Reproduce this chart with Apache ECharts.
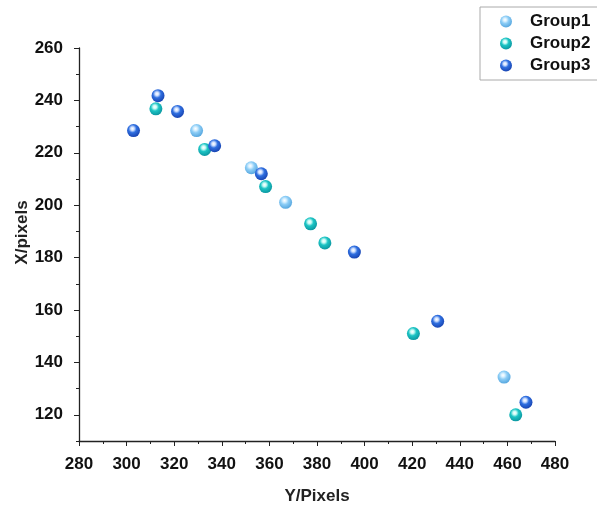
<!DOCTYPE html>
<html>
<head>
<meta charset="utf-8">
<script src="https://cdn.jsdelivr.net/npm/echarts@6/dist/echarts.min.js"></script>
<style>
  html, body { margin: 0; padding: 0; background: #fff; }
  #chart { width: 597px; height: 506px; }
</style>
</head>
<body>
<div id="chart"></div>
<script>
// [Y/Pixels, X/pixels] pairs
var group1 = [[329.4, 228.5], [352.4, 214.3], [366.8, 201.1], [458.6, 134.4]];
var group2 = [[312.3, 236.8], [332.8, 221.3], [358.4, 207.1], [377.3, 192.9],
              [383.3, 185.6], [420.5, 151.0], [463.5, 120.0]];
var group3 = [[302.9, 228.5], [313.2, 241.8], [321.4, 235.8], [337.0, 222.7],
              [356.6, 212.0], [395.7, 182.1], [430.7, 155.7], [467.8, 124.8]];
var groupNames = ["Group1", "Group2", "Group3"];
var yMajorTicks = [120, 140, 160, 180, 200, 220, 240, 260];
var yMinorTicks = [110, 130, 150, 170, 190, 210, 230, 250];
var groupColors = [["#d8f0ff", "#8ccdf6", "#5aa9e0"], ["#c8fbf6", "#1cc4c4", "#0d9aa3"], ["#cfe0ff", "#2f6fe0", "#1a47b5"]];

function ball(c) {
  return {
    type: "radial", x: 0.42, y: 0.36, r: 0.62,
    colorStops: [
      { offset: 0, color: "#ffffff" },
      { offset: 0.22, color: c[0] },
      { offset: 0.5, color: c[1] },
      { offset: 1, color: c[2] }
    ]
  };
}

var font = "Liberation Sans, Arial, sans-serif";
var chart = echarts.init(document.getElementById("chart"));

chart.setOption({
  animation: false,
  grid: { left: 79, right: 42, top: 48, bottom: 65, outerBoundsMode: "none" },
  legend: {
    orient: "vertical",
    left: 480, top: 7,
    padding: [6, 20, 6, 20],
    itemGap: 5,
    itemWidth: 12, itemHeight: 12,
    icon: "circle",
    borderColor: "#aaa", borderWidth: 1,
    textStyle: { fontFamily: font, fontWeight: "bold", fontSize: 17, color: "#111", padding: [0, 0, 0, 13] },
    data: groupNames
  },
  xAxis: {
    type: "value", min: 280, max: 480, interval: 20,
    name: "Y/Pixels", nameLocation: "middle", nameGap: 47, nameMoveOverlap: false,
    nameTextStyle: { fontFamily: font, fontWeight: "bold", fontSize: 17, color: "#222" },
    axisLine: { show: true, onZero: false, lineStyle: { color: "#222", width: 1.3 } },
    axisTick: { show: true, length: 5, lineStyle: { color: "#222" } },
    minorTick: { show: true, splitNumber: 2, length: 3, lineStyle: { color: "#222" } },
    axisLabel: { margin: 15, fontFamily: font, fontWeight: "bold", fontSize: 17, color: "#111" },
    splitLine: { show: false }
  },
  yAxis: [{
    type: "value", min: 110, max: 260,
    name: "X/pixels", nameLocation: "middle", nameGap: 48, nameMoveOverlap: false,
    nameTextStyle: { fontFamily: font, fontWeight: "bold", fontSize: 17, color: "#222", padding: [0, 0, 0, 24] },
    axisLine: { show: true, onZero: false, lineStyle: { color: "#222", width: 1.3 } },
    axisTick: { show: true, length: 5, customValues: yMajorTicks, lineStyle: { color: "#222" } },
    axisLabel: {
      margin: 16, fontFamily: font, fontWeight: "bold", fontSize: 17, color: "#111",
      customValues: yMajorTicks
    },
    splitLine: { show: false }
  }, {
    type: "value", min: 110, max: 260, position: "left",
    axisLine: { show: false },
    axisTick: { show: true, length: 3, customValues: yMinorTicks, lineStyle: { color: "#222" } },
    axisLabel: { show: false },
    splitLine: { show: false }
  }],
  series: [group1, group2, group3].map(function (d, i) {
    return {
      type: "scatter",
      name: groupNames[i],
      data: d,
      symbolSize: 13,
      itemStyle: { color: ball(groupColors[i]), opacity: 1 }
    };
  })
});
</script>
</body>
</html>
